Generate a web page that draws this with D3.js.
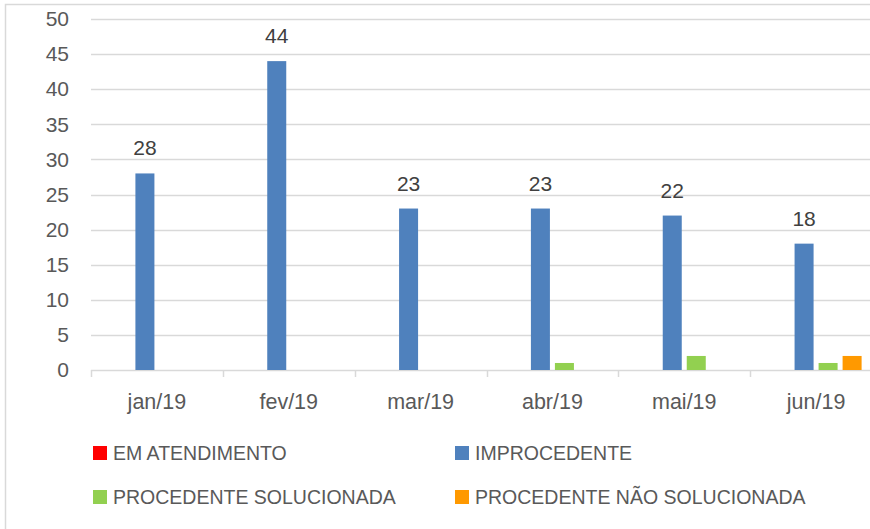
<!DOCTYPE html>
<html>
<head>
<meta charset="utf-8">
<script src="https://cdn.jsdelivr.net/npm/d3@7"></script>
<style>
  body { margin: 0; background: #fff; }
  svg { display: block; }
  text { font-family: "Liberation Sans", Arial, sans-serif; fill: #595959; }
</style>
</head>
<body>
<div id="chart"></div>
<script>
// data
const months = ["jan/19", "fev/19", "mar/19", "abr/19", "mai/19", "jun/19"];
const seriesNames = ["EM ATENDIMENTO", "IMPROCEDENTE", "PROCEDENTE SOLUCIONADA", "PROCEDENTE NÃO SOLUCIONADA"];
const emAtendimento = [0, 0, 0, 0, 0, 0];
const improcedente = [28, 44, 23, 23, 22, 18];
const procSolucionada = [0, 0, 0, 1, 2, 1];
const procNaoSolucionada = [0, 0, 0, 0, 0, 2];
const yTicks = [0, 5, 10, 15, 20, 25, 30, 35, 40, 45, 50];
const colors = ["#ff0000", "#4f81bd", "#92d050", "#ff9900"];

const width = 870, height = 529;
const plot = {left: 91, right: 882, top: 19, bottom: 370};

const values = [emAtendimento, improcedente, procSolucionada, procNaoSolucionada];
const rows = [];
months.forEach((m, i) => {
  seriesNames.forEach((s, j) => rows.push({month: m, series: s, value: values[j][i], idx: j}));
});

const svg = d3.select("#chart").append("svg")
  .attr("width", width)
  .attr("height", height);

// chart border (cropped on the right)
svg.append("rect")
  .attr("x", 5.5).attr("y", 4.5)
  .attr("width", 880).attr("height", 540)
  .attr("fill", "none")
  .attr("stroke", "#d9d9d9")
  .attr("stroke-width", 1.5);

const x0 = d3.scaleBand()
  .domain(months)
  .range([plot.left, plot.right]);

const groupPad = 20.4;
const x1 = d3.scaleBand()
  .domain(seriesNames)
  .range([groupPad, x0.bandwidth() - groupPad])
  .paddingInner(5 / 24);

const y = d3.scaleLinear()
  .domain([0, 50])
  .range([plot.bottom, plot.top]);

// gridlines
svg.append("g")
  .selectAll("line")
  .data(yTicks.filter(d => d > 0))
  .join("line")
    .attr("x1", plot.left)
    .attr("x2", width)
    .attr("y1", d => Math.round(y(d)) + 0.5)
    .attr("y2", d => Math.round(y(d)) + 0.5)
    .attr("stroke", "#d9d9d9")
    .attr("stroke-width", 1.5);

// y axis labels
const yAxis = svg.append("g")
  .attr("transform", `translate(${plot.left},0)`)
  .call(d3.axisLeft(y).tickValues(yTicks).tickSize(0).tickPadding(22));
yAxis.select(".domain").remove();
yAxis.selectAll("text")
  .style("font-size", "21px")
  .attr("fill", "#595959")
  .attr("font-family", "Liberation Sans, Arial, sans-serif");

// x axis
const xAxis = svg.append("g")
  .attr("transform", `translate(0,${plot.bottom + 0.5})`)
  .call(d3.axisBottom(x0).tickSize(0).tickPadding(23));
xAxis.select(".domain")
  .attr("d", `M${plot.left},0H${width}`)
  .attr("stroke", "#d9d9d9")
  .attr("stroke-width", 1.5);
xAxis.selectAll("text")
  .style("font-size", "21.5px")
  .attr("fill", "#595959")
  .attr("font-family", "Liberation Sans, Arial, sans-serif");

// category separators
svg.append("g")
  .selectAll("line")
  .data(months.concat(["end"]))
  .join("line")
    .attr("x1", (d, i) => Math.round(plot.left + i * x0.bandwidth()) + 0.5)
    .attr("x2", (d, i) => Math.round(plot.left + i * x0.bandwidth()) + 0.5)
    .attr("y1", plot.bottom)
    .attr("y2", plot.bottom + 7)
    .attr("stroke", "#d9d9d9")
    .attr("stroke-width", 1.5);

// bars
svg.append("g")
  .selectAll("rect")
  .data(rows)
  .join("rect")
    .attr("x", d => x0(d.month) + x1(d.series))
    .attr("y", d => y(d.value))
    .attr("width", x1.bandwidth())
    .attr("height", d => y(0) - y(d.value))
    .attr("fill", d => colors[d.idx]);

// data labels (IMPROCEDENTE only)
svg.append("g")
  .selectAll("text")
  .data(rows.filter(d => d.series === "IMPROCEDENTE"))
  .join("text")
    .attr("x", d => x0(d.month) + x1(d.series) + x1.bandwidth() / 2)
    .attr("y", d => y(d.value) - 18)
    .attr("text-anchor", "middle")
    .style("font-size", "21px")
    .style("fill", "#404040")
    .text(d => d.value);

// legend
const legendPos = [
  {x: 93, y: 446}, {x: 455, y: 446},
  {x: 93, y: 490}, {x: 455, y: 490}
];
const legend = svg.append("g")
  .selectAll("g")
  .data(seriesNames)
  .join("g")
    .attr("transform", (d, i) => `translate(${legendPos[i].x},${legendPos[i].y})`);

legend.append("rect")
  .attr("width", 14)
  .attr("height", 14)
  .attr("fill", (d, i) => colors[i]);

legend.append("text")
  .attr("x", 20)
  .attr("y", 14)
  .style("font-size", "19.5px")
  .text(d => d);
</script>
</body>
</html>
